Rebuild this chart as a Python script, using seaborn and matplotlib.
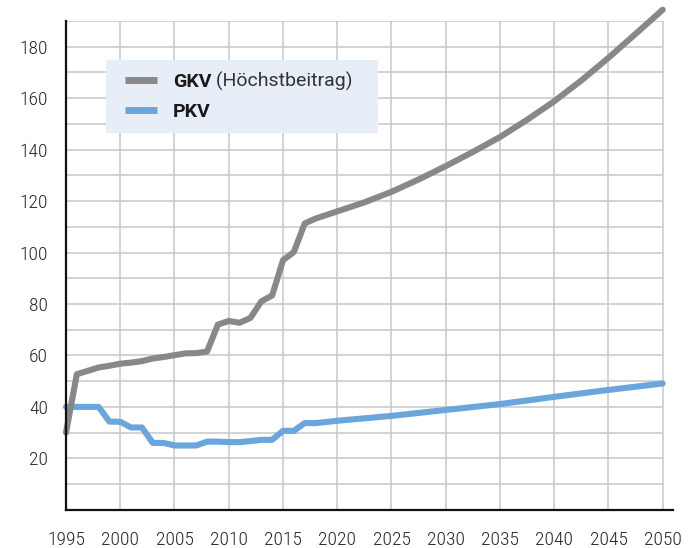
import numpy as np
import pandas as pd
import matplotlib
matplotlib.use("Agg")
import matplotlib.pyplot as plt
from matplotlib.lines import Line2D
from matplotlib.patches import Rectangle
from matplotlib import font_manager
import seaborn as sns

# ---- data ----
gkv_years = [1995, 1996, 1997, 1998, 1999, 2000, 2001, 2002, 2003, 2004, 2005, 2006,
             2007, 2008, 2009, 2010, 2011, 2012, 2013, 2014, 2015, 2016, 2017, 2018,
             2019, 2020, 2022.5, 2025, 2027.5, 2030, 2032.5, 2035, 2037.5, 2040,
             2042.5, 2045, 2047.5, 2050]
gkv_values = [30, 52.7, 54, 55.3, 56, 56.8, 57.2, 57.8, 58.8, 59.4, 60.1, 60.8,
              60.9, 61.5, 72, 73.4, 72.7, 74.6, 81, 83.3, 97, 100.2, 111.3, 113.2,
              114.6, 116, 119.5, 123.6, 128.4, 133.6, 139.1, 144.9, 151.6, 158.8,
              166.9, 175.7, 185, 194.4]
pkv_years = [1995, 1996, 1997, 1998, 1999, 2000, 2001, 2002, 2003, 2004, 2005, 2006,
             2007, 2008, 2009, 2010, 2011, 2012, 2013, 2014, 2015, 2016, 2017, 2018,
             2020, 2025, 2030, 2035, 2040, 2045, 2050]
pkv_values = [40, 40, 40, 40, 34.3, 34.2, 32, 32, 26, 26, 25, 25,
              25, 26.5, 26.5, 26.3, 26.3, 26.7, 27.2, 27.2, 30.7, 30.7, 33.7, 33.7,
              34.6, 36.5, 38.8, 41.1, 43.9, 46.6, 49.1]
x_ticks = [1995, 2000, 2005, 2010, 2015, 2020, 2025, 2030, 2035, 2040, 2045, 2050]
y_ticks = [20, 40, 60, 80, 100, 120, 140, 160, 180]
gkv_label = "GKV"
gkv_note = "(Höchstbeitrag)"
pkv_label = "PKV"

# ---- style ----
sns.set_style("white")
available = {f.name for f in font_manager.fontManager.ttflist}
TICK_FONT = [f for f in ["Roboto Condensed", "Liberation Sans Narrow", "Roboto", "DejaVu Sans"]
             if f in available]
LEG_FONT = [f for f in ["Roboto", "DejaVu Sans"] if f in available]
plt.rcParams["font.family"] = TICK_FONT

GRAY = "#888888"
BLUE = "#6aa6dc"
GRID = "#c8c8c8"
TXT = "#262626"

W, H = 698, 548
fig = plt.figure(figsize=(W / 100, H / 100), dpi=100)
ax = fig.add_axes([66 / W, (H - 509.8) / H, 606.7 / W, 488.8 / H])

ymax = 190
ax.set_xlim(1995, 2050.92)
ax.set_ylim(0, ymax)

# grid
ax.hlines(np.arange(10, ymax + 1, 10), 1995, 2050, color=GRID, lw=1.1, zorder=0)
ax.vlines(x_ticks[1:], 0, ymax, color=GRID, lw=1.1, zorder=0)

pkv_df = pd.DataFrame({"Jahr": pkv_years, "Wert": pkv_values})
gkv_df = pd.DataFrame({"Jahr": gkv_years, "Wert": gkv_values})
sns.lineplot(data=pkv_df, x="Jahr", y="Wert", ax=ax, color=BLUE, lw=4.4,
             solid_capstyle="round", solid_joinstyle="round", zorder=3)
sns.lineplot(data=gkv_df, x="Jahr", y="Wert", ax=ax, color=GRAY, lw=4.4,
             solid_capstyle="round", solid_joinstyle="round", zorder=4)
for ln in ax.lines:
    ln.set_clip_on(False)

ax.set_xlabel("")
ax.set_ylabel("")
ax.set_xticks(x_ticks)
ax.set_yticks(y_ticks)
ax.tick_params(axis="both", length=0, labelsize=14, colors=TXT)
ax.tick_params(axis="x", pad=15.5)
ax.tick_params(axis="y", pad=13)
for lab in ax.get_xticklabels() + ax.get_yticklabels():
    lab.set_fontweight("light")

for s in ["top", "right"]:
    ax.spines[s].set_visible(False)
for s in ["left", "bottom"]:
    ax.spines[s].set_color("#111111")
    ax.spines[s].set_linewidth(1.6)
    ax.spines[s].set_zorder(5)

# legend background
bg = Rectangle((106 / W, (H - 133) / H), 272 / W, 73 / H,
               transform=fig.transFigure, facecolor="#e8eef8",
               edgecolor="none", zorder=5.5, clip_on=False)
ax.add_patch(bg)
handles = [Line2D([], [], color=GRAY, lw=5, solid_capstyle="butt"),
           Line2D([], [], color=BLUE, lw=5, solid_capstyle="butt")]
labels = [gkv_label, pkv_label]
leg = ax.legend(handles, labels, loc="upper left", frameon=False,
                bbox_to_anchor=(125 / W, (H - 73) / H), bbox_transform=fig.transFigure,
                handlelength=1.65, handletextpad=0.8, labelspacing=0.62,
                borderpad=0, borderaxespad=0,
                prop={"family": LEG_FONT, "weight": "bold", "size": 14})
for t in leg.get_texts():
    t.set_color("#1a1a1a")
leg.set_zorder(6)
note = ax.annotate(" " + gkv_note, xy=(1, 0), xycoords=leg.get_texts()[0],
                   va="bottom", ha="left", fontsize=14, family=LEG_FONT,
                   fontweight="normal", color="#333333", zorder=7,
                   annotation_clip=False)

fig.savefig("out.png", dpi=100)
